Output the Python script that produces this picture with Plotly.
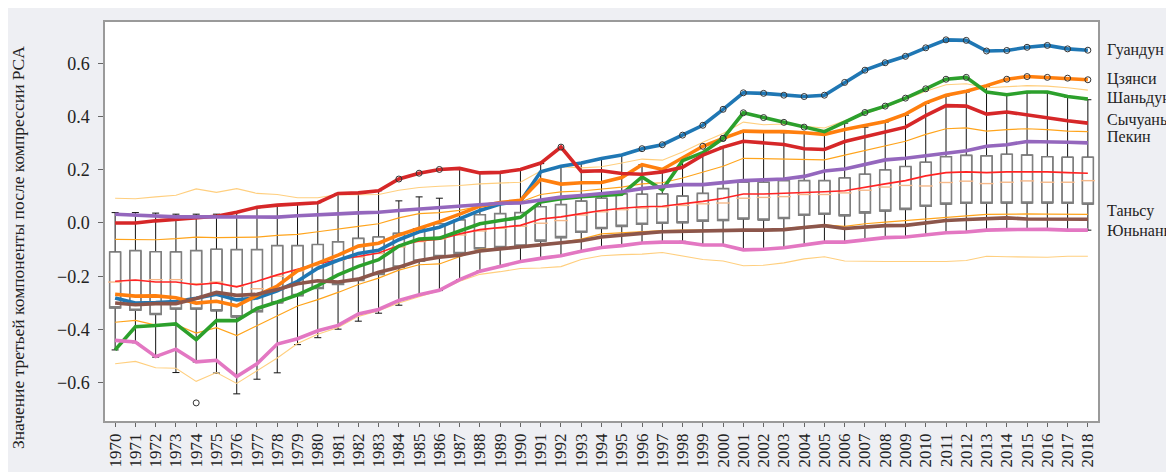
import plotly.graph_objects as go

years = list(range(1970, 2019))

guangdong = [-0.282, -0.301, -0.299, -0.295, -0.283, -0.268, -0.289, -0.282, -0.255, -0.219,
             -0.170, -0.140, -0.115, -0.103, -0.063, -0.033, -0.016, 0.015, 0.047, 0.071,
             0.081, 0.192, 0.213, 0.225, 0.242, 0.255, 0.279, 0.294, 0.330, 0.367,
             0.427, 0.489, 0.487, 0.480, 0.475, 0.480, 0.528, 0.574, 0.602, 0.626,
             0.658, 0.688, 0.686, 0.646, 0.648, 0.660, 0.667, 0.654, 0.649]
jiangxi = [-0.268, -0.275, -0.274, -0.281, -0.301, -0.294, -0.311, -0.272, -0.237, -0.180,
           -0.151, -0.121, -0.087, -0.076, -0.045, -0.021, 0.005, 0.033, 0.063, 0.077,
           0.085, 0.163, 0.146, 0.151, 0.152, 0.171, 0.219, 0.201, 0.243, 0.288,
           0.318, 0.345, 0.343, 0.343, 0.339, 0.333, 0.351, 0.367, 0.381, 0.409,
           0.451, 0.480, 0.495, 0.516, 0.540, 0.550, 0.547, 0.544, 0.538]
shandong = [-0.477, -0.390, -0.385, -0.379, -0.438, -0.367, -0.367, -0.321, -0.297, -0.270,
            -0.235, -0.195, -0.163, -0.138, -0.087, -0.060, -0.057, -0.029, -0.003, 0.009,
            0.021, 0.079, 0.091, 0.099, 0.105, 0.108, 0.173, 0.125, 0.234, 0.264,
            0.318, 0.414, 0.396, 0.378, 0.360, 0.343, 0.379, 0.415, 0.439, 0.469,
            0.504, 0.540, 0.547, 0.492, 0.482, 0.492, 0.492, 0.475, 0.466]
sichuan = [0.000, 0.000, 0.008, 0.014, 0.022, 0.025, 0.040, 0.059, 0.067, 0.071,
           0.076, 0.111, 0.113, 0.121, 0.165, 0.187, 0.201, 0.205, 0.188, 0.190,
           0.201, 0.225, 0.285, 0.194, 0.196, 0.186, 0.183, 0.192, 0.209, 0.255,
           0.285, 0.307, 0.300, 0.295, 0.279, 0.276, 0.306, 0.324, 0.343, 0.360,
           0.403, 0.441, 0.439, 0.409, 0.417, 0.405, 0.393, 0.384, 0.375]
beijing = [0.033, 0.029, 0.027, 0.023, 0.023, 0.022, 0.021, 0.021, 0.022, 0.027,
           0.032, 0.034, 0.038, 0.040, 0.047, 0.052, 0.057, 0.063, 0.069, 0.074,
           0.075, 0.087, 0.097, 0.103, 0.111, 0.117, 0.129, 0.138, 0.144, 0.144,
           0.153, 0.159, 0.162, 0.165, 0.175, 0.195, 0.203, 0.221, 0.237, 0.243,
           0.252, 0.261, 0.271, 0.288, 0.294, 0.306, 0.306, 0.303, 0.301]
tianjin = [-0.301, -0.307, -0.303, -0.303, -0.284, -0.261, -0.272, -0.268, -0.250, -0.228,
           -0.217, -0.222, -0.211, -0.185, -0.166, -0.141, -0.129, -0.121, -0.105, -0.097,
           -0.089, -0.081, -0.075, -0.067, -0.053, -0.045, -0.039, -0.033, -0.031, -0.029,
           -0.029, -0.027, -0.027, -0.025, -0.017, -0.010, -0.021, -0.015, -0.010, -0.009,
           0.001, 0.009, 0.013, 0.016, 0.019, 0.015, 0.014, 0.014, 0.014]
yunnan = [-0.441, -0.447, -0.502, -0.474, -0.522, -0.516, -0.577, -0.529, -0.455, -0.435,
          -0.405, -0.385, -0.342, -0.325, -0.291, -0.270, -0.253, -0.213, -0.181, -0.163,
          -0.145, -0.133, -0.123, -0.106, -0.092, -0.085, -0.075, -0.072, -0.072, -0.083,
          -0.083, -0.101, -0.099, -0.093, -0.081, -0.072, -0.072, -0.063, -0.055, -0.053,
          -0.044, -0.037, -0.034, -0.027, -0.025, -0.024, -0.024, -0.027, -0.027]

mean_line = [-0.219, -0.214, -0.222, -0.222, -0.232, -0.225, -0.240, -0.219, -0.195, -0.175,
             -0.153, -0.138, -0.125, -0.113, -0.085, -0.068, -0.061, -0.041, -0.025, -0.017,
             -0.009, 0.015, 0.023, 0.035, 0.047, 0.055, 0.061, 0.063, 0.071, 0.081,
             0.093, 0.109, 0.109, 0.111, 0.113, 0.117, 0.121, 0.135, 0.147, 0.159,
             0.177, 0.189, 0.192, 0.189, 0.192, 0.192, 0.192, 0.189, 0.187]
plus1 = [-0.062, -0.062, -0.063, -0.059, -0.053, -0.055, -0.055, -0.053, -0.047, -0.043,
         -0.033, -0.022, -0.013, -0.003, 0.019, 0.035, 0.039, 0.047, 0.063, 0.075,
         0.079, 0.107, 0.117, 0.120, 0.127, 0.135, 0.147, 0.151, 0.169, 0.192,
         0.213, 0.243, 0.241, 0.240, 0.237, 0.237, 0.255, 0.273, 0.291, 0.307,
         0.333, 0.354, 0.357, 0.345, 0.351, 0.354, 0.351, 0.345, 0.343]
plus2 = [0.093, 0.091, 0.098, 0.104, 0.128, 0.115, 0.129, 0.111, 0.107, 0.095,
         0.095, 0.107, 0.106, 0.107, 0.123, 0.133, 0.138, 0.141, 0.147, 0.150,
         0.153, 0.195, 0.211, 0.207, 0.211, 0.225, 0.240, 0.236, 0.267, 0.303,
         0.336, 0.379, 0.369, 0.372, 0.363, 0.357, 0.384, 0.411, 0.435, 0.465,
         0.495, 0.519, 0.523, 0.508, 0.511, 0.516, 0.514, 0.508, 0.499]
minus1 = [-0.373, -0.366, -0.384, -0.382, -0.414, -0.393, -0.423, -0.387, -0.351, -0.312,
          -0.288, -0.261, -0.231, -0.207, -0.177, -0.157, -0.154, -0.126, -0.099, -0.096,
          -0.087, -0.079, -0.073, -0.061, -0.041, -0.037, -0.031, -0.029, -0.027, -0.027,
          -0.027, -0.027, -0.027, -0.021, -0.015, -0.007, -0.013, -0.003, 0.003, 0.009,
          0.016, 0.023, 0.027, 0.032, 0.034, 0.034, 0.033, 0.032, 0.032]
minus2 = [-0.529, -0.520, -0.544, -0.546, -0.595, -0.562, -0.603, -0.556, -0.507, -0.453,
          -0.418, -0.393, -0.351, -0.330, -0.301, -0.277, -0.255, -0.219, -0.193, -0.183,
          -0.171, -0.169, -0.164, -0.137, -0.123, -0.119, -0.117, -0.111, -0.123, -0.137,
          -0.143, -0.161, -0.159, -0.150, -0.135, -0.127, -0.143, -0.145, -0.145, -0.145,
          -0.145, -0.145, -0.141, -0.125, -0.127, -0.129, -0.129, -0.125, -0.125]

upper_whisker = [0.039, 0.039, 0.037, 0.033, 0.033, 0.033, 0.039, 0.057, 0.067, 0.071,
                 0.076, 0.111, 0.111, 0.121, 0.083, 0.098, 0.093, 0.205, 0.187, 0.190,
                 0.201, 0.223, 0.211, 0.223, 0.242, 0.255, 0.219, 0.199, 0.237, 0.261,
                 0.285, 0.345, 0.342, 0.339, 0.336, 0.336, 0.375, 0.360, 0.379, 0.405,
                 0.449, 0.477, 0.492, 0.514, 0.481, 0.489, 0.489, 0.473, 0.463]
q3 = [-0.109, -0.104, -0.108, -0.109, -0.104, -0.099, -0.100, -0.100, -0.085, -0.085,
      -0.081, -0.071, -0.058, -0.053, -0.039, -0.022, -0.003, 0.011, 0.031, 0.035,
      0.039, 0.061, 0.069, 0.082, 0.093, 0.109, 0.108, 0.109, 0.101, 0.111,
      0.129, 0.153, 0.153, 0.159, 0.159, 0.159, 0.169, 0.183, 0.199, 0.212,
      0.228, 0.249, 0.254, 0.252, 0.258, 0.255, 0.249, 0.247, 0.247]
median = [-0.222, -0.216, -0.213, -0.213, -0.228, -0.222, -0.238, -0.247, -0.200, -0.180,
          -0.160, -0.140, -0.128, -0.115, -0.090, -0.070, -0.060, -0.045, -0.030, -0.020,
          -0.012, -0.001, 0.009, 0.030, 0.042, 0.050, 0.056, 0.060, 0.066, 0.072,
          0.075, 0.093, 0.096, 0.099, 0.107, 0.107, 0.113, 0.123, 0.135, 0.141,
          0.139, 0.152, 0.157, 0.148, 0.153, 0.158, 0.153, 0.153, 0.159]
q1 = [-0.319, -0.328, -0.344, -0.323, -0.323, -0.330, -0.353, -0.333, -0.300, -0.273,
      -0.246, -0.231, -0.216, -0.193, -0.166, -0.143, -0.126, -0.115, -0.097, -0.092,
      -0.087, -0.068, -0.055, -0.035, -0.021, -0.013, -0.005, -0.001, 0.001, 0.007,
      0.009, 0.015, 0.011, 0.017, 0.029, 0.033, 0.027, 0.038, 0.045, 0.051,
      0.063, 0.071, 0.074, 0.074, 0.075, 0.075, 0.075, 0.074, 0.071]
lower_whisker = [-0.477, -0.450, -0.504, -0.562, -0.522, -0.564, -0.642, -0.587, -0.563, -0.457,
                 -0.431, -0.399, -0.369, -0.339, -0.309, -0.270, -0.254, -0.213, -0.181, -0.163,
                 -0.145, -0.133, -0.123, -0.106, -0.093, -0.085, -0.075, -0.072, -0.069, -0.083,
                 -0.083, -0.101, -0.099, -0.093, -0.081, -0.072, -0.072, -0.063, -0.055, -0.053,
                 -0.045, -0.037, -0.034, -0.027, -0.025, -0.024, -0.024, -0.027, -0.027]
extra_outlier_years = [1974]
extra_outlier_values = [-0.676]

provinces = ["Гуандун", "Цзянси", "Шаньдун", "Сычуань", "Пекин", "Таньсу", "Юньнань"]
series = [guangdong, jiangxi, shandong, sichuan, beijing, tianjin, yunnan]
colors = ["#1f77b4", "#ff7f0e", "#2ca02c", "#d62728", "#9467bd", "#8c564b", "#e377c2"]
label_y = [0.650, 0.542, 0.470, 0.387, 0.323, 0.045, -0.027]

SERIF = '"Liberation Serif", "DejaVu Serif", serif'

fig = go.Figure()

# whiskers (black)
fig.add_trace(go.Box(
    x=years, q1=q1, median=median, q3=q3,
    lowerfence=lower_whisker, upperfence=upper_whisker,
    boxpoints=False, width=0.54, whiskerwidth=0.64,
    line=dict(color="#111111", width=1), fillcolor="white",
    showlegend=False, hoverinfo="skip"))
# boxes (gray outline)
fig.add_trace(go.Box(
    x=years, q1=q1, median=q1, q3=q3,
    lowerfence=q1, upperfence=q3,
    boxpoints=False, width=0.54, whiskerwidth=0,
    line=dict(color="#7f7f7f", width=1.6), fillcolor="white",
    showlegend=False, hoverinfo="skip"))
# medians
fig.add_trace(go.Scatter(
    x=years, y=median, mode="markers",
    marker=dict(symbol="line-ew", size=10, color="#f6b98a",
                line=dict(color="#f6b98a", width=1.4)),
    showlegend=False, hoverinfo="skip"))

# band lines
for arr, col, w in [(plus2, "#ffcf7f", 1.1), (minus2, "#ffcf7f", 1.1),
                    (plus1, "#ffa41c", 1.2), (minus1, "#ffa41c", 1.2),
                    (mean_line, "#ff2424", 1.6)]:
    fig.add_trace(go.Scatter(x=years, y=arr, mode="lines",
                             line=dict(color=col, width=w),
                             showlegend=False, hoverinfo="skip"))

# province lines
for name, arr, col in zip(provinces, series, colors):
    fig.add_trace(go.Scatter(x=years, y=arr, mode="lines", name=name,
                             line=dict(color=col, width=3.6),
                             showlegend=False))

# outliers (values beyond whiskers)
ox, oy = list(extra_outlier_years), list(extra_outlier_values)
eps = 0.012
for arr in series:
    for yr, v, hi, lo in zip(years, arr, upper_whisker, lower_whisker):
        if v > hi + eps or v < lo - eps:
            ox.append(yr)
            oy.append(v)
fig.add_trace(go.Scatter(x=ox, y=oy, mode="markers",
                         marker=dict(symbol="circle-open", size=6, color="#333333",
                                     line=dict(color="#333333", width=1)),
                         showlegend=False, hoverinfo="skip"))

annotations = []
for name, yv in zip(provinces, label_y):
    annotations.append(dict(x=1.0, xshift=8, y=yv, xref="paper", yref="y", text=name,
                            showarrow=False, xanchor="left", yanchor="middle",
                            borderpad=0,
                            font=dict(family=SERIF, size=16, color="#222222")))
annotations.append(dict(x=-0.087, y=0.435, xref="paper", yref="paper",
                        text="Значение третьей компоненты после компрессии PCA",
                        textangle=-90, showarrow=False, xanchor="center", yanchor="middle",
                        font=dict(family=SERIF, size=17.5, color="#222222")))

fig.update_layout(
    width=1174, height=472,
    margin=dict(l=97, r=84, t=13, b=43),
    paper_bgcolor="#eeeff3", plot_bgcolor="white",
    boxmode="overlay",
    showlegend=False,
    font=dict(family=SERIF),
    annotations=annotations,
    xaxis=dict(range=[1969.5, 2018.5], tickmode="array", tickvals=years,
               ticktext=[str(y) for y in years], tickangle=-90,
               showgrid=False, zeroline=False,
               showline=True, linecolor="#9a9a9a", linewidth=1.5, mirror=True,
               ticks="outside", ticklen=4, tickcolor="#666666",
               tickfont=dict(family=SERIF, size=17, color="#222222")),
    yaxis=dict(range=[-0.744, 0.755], tickvals=[-0.6, -0.4, -0.2, 0.0, 0.2, 0.4, 0.6],
               ticktext=["−0.6", "−0.4", "−0.2", "0.0", "0.2", "0.4", "0.6"],
               showgrid=False, zeroline=False,
               showline=True, linecolor="#9a9a9a", linewidth=1.5, mirror=True,
               ticks="outside", ticklen=5, tickcolor="#666666",
               ticklabelstandoff=5,
               tickfont=dict(family=SERIF, size=18, color="#222222")),
)

fig.write_html("out.html")
